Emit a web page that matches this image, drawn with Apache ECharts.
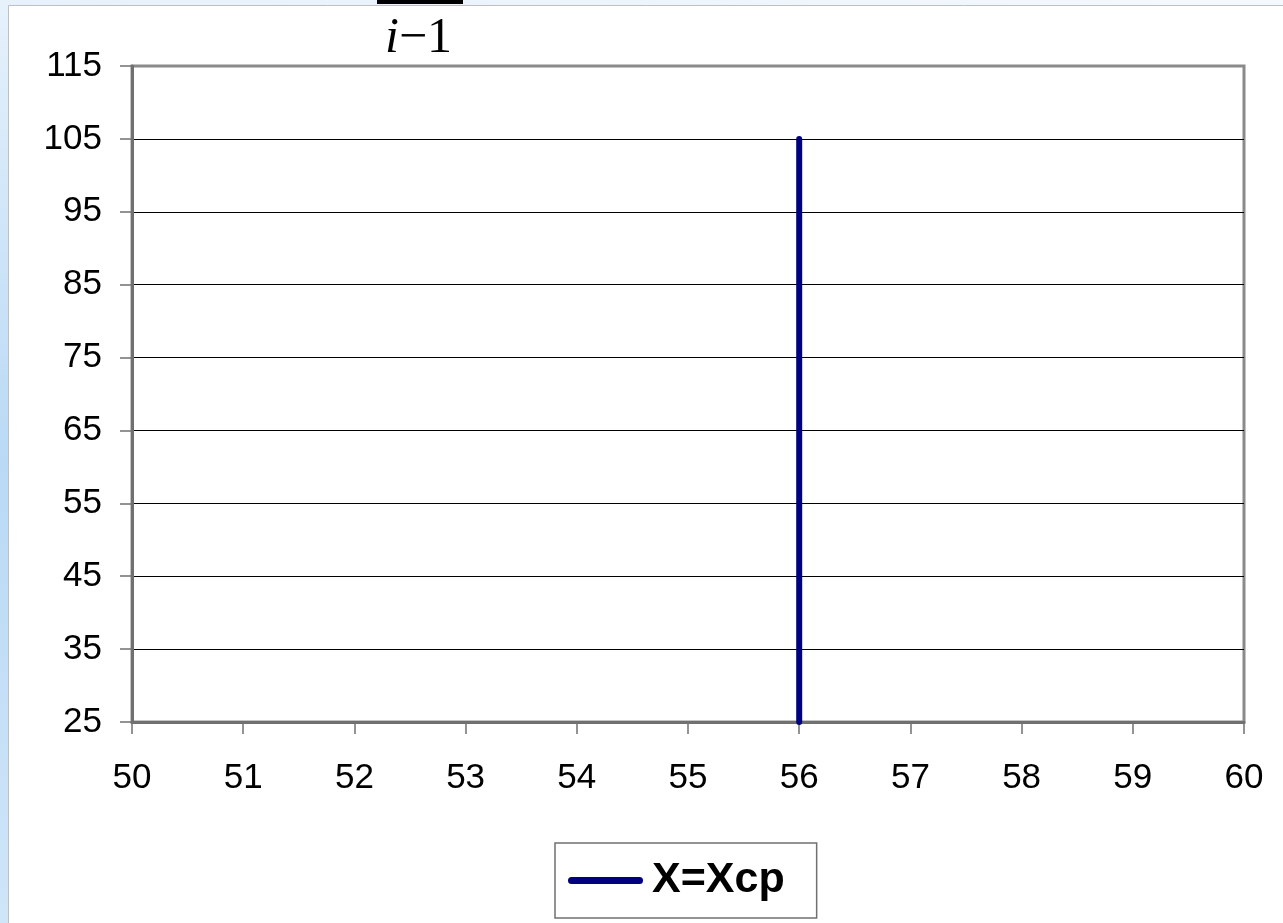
<!DOCTYPE html>
<html><head><meta charset="utf-8">
<script src="https://cdn.jsdelivr.net/npm/echarts@6/dist/echarts.min.js"></script>
<style>html,body{margin:0;padding:0;background:#fff}#c{width:1283px;height:923px}</style>
</head><body><div id="c"></div>
<script>
const seriesName = 'X=Xcp';
const lineX = [56, 56];
const lineY = [25, 105];
const xMin = 50, xMax = 60, xStep = 1;
const yMin = 25, yMax = 115, yStep = 10;

const chart = echarts.init(document.getElementById('c'), null, {renderer: 'canvas'});
chart.setOption({
  backgroundColor: '#ffffff',
  animation: false,
  graphic: [
    {type: 'rect', left: 0, top: 0, z: -10, shape: {width: 9, height: 923},
     style: {fill: new echarts.graphic.LinearGradient(0, 0, 0, 1, [
       {offset: 0, color: '#e6f1fb'}, {offset: 0.5, color: '#b9d9f5'}, {offset: 1, color: '#cfe5f8'}])}},
    {type: 'rect', left: 0, top: 0, z: -10, shape: {width: 1283, height: 5},
     style: {fill: new echarts.graphic.LinearGradient(0, 0, 1, 0, [
       {offset: 0, color: '#e6f1fb'}, {offset: 1, color: '#f4f9fd'}])}},
    {type: 'line', z: -5, shape: {x1: 8.5, y1: 5.5, x2: 1283, y2: 5.5}, style: {stroke: '#c0c0c0', lineWidth: 1}},
    {type: 'line', z: -5, shape: {x1: 8.5, y1: 5.5, x2: 8.5, y2: 923}, style: {stroke: '#c0c0c0', lineWidth: 1}},
    {type: 'rect', left: 377, top: 0, shape: {width: 86, height: 4}, style: {fill: '#000'}},
    {type: 'text', x: 385, y: 14, style: {
      text: '{i|i}{r|−1}',
      verticalAlign: 'top',
      rich: {
        i: {fontFamily: 'Liberation Serif', fontStyle: 'italic', fontSize: 50, lineHeight: 50, fill: '#000'},
        r: {fontFamily: 'Liberation Serif', fontSize: 50, lineHeight: 50, fill: '#000'}
      }
    }}
  ],
  grid: {left: 132, right: 39, top: 66, bottom: 201, show: true, borderColor: '#8a8a8a', borderWidth: 3, backgroundColor: '#fff'},
  legend: {
    show: true,
    left: 555, top: 843,
    padding: [16, 32, 16, 13],
    borderColor: '#707070', borderWidth: 1.5, borderRadius: 0,
    backgroundColor: '#fff',
    itemWidth: 75, itemHeight: 7, itemGap: 4,
    icon: 'path://M3.5,0 L71.5,0 A3.5,3.5 0 0 1 71.5,7 L3.5,7 A3.5,3.5 0 0 1 3.5,0 Z',
    textStyle: {fontFamily: 'Liberation Sans', fontWeight: 'bold', fontSize: 43, lineHeight: 42, color: '#000', padding: [0, 0, 0, 4]},
    data: [seriesName]
  },
  xAxis: {
    type: 'value', min: xMin, max: xMax, interval: xStep,
    axisLine: {show: true, lineStyle: {color: '#707070', width: 3}},
    axisTick: {show: true, length: 12, lineStyle: {color: '#707070', width: 1.5}},
    axisLabel: {fontFamily: 'Liberation Sans', fontSize: 35, color: '#000', margin: 39},
    splitLine: {show: false}
  },
  yAxis: {
    type: 'value', min: yMin, max: yMax, interval: yStep,
    axisLine: {show: true, lineStyle: {color: '#707070', width: 3}},
    axisTick: {show: true, length: 12, lineStyle: {color: '#707070', width: 1.5}},
    axisLabel: {fontFamily: 'Liberation Sans', fontSize: 35, color: '#000', margin: 30},
    splitLine: {show: true, showMinLine: false, showMaxLine: false, lineStyle: {color: '#000', width: 1}}
  },
  series: [{
    name: seriesName, type: 'line', symbol: 'none',
    data: lineX.map((x, i) => [x, lineY[i]]),
    lineStyle: {color: '#000080', width: 6, cap: 'round'},
    itemStyle: {color: '#000080'}
  }]
});
</script></body></html>
